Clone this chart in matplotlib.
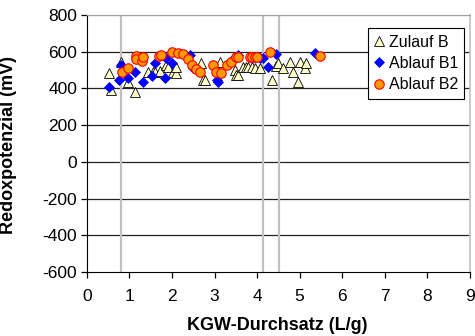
import numpy as np
import matplotlib
matplotlib.use('Agg')
import matplotlib.pyplot as plt

matplotlib.rcParams['font.family'] = ['Liberation Sans', 'DejaVu Sans']
matplotlib.rcParams['font.size'] = 13
matplotlib.rcParams['axes.unicode_minus'] = False

# Zulauf B (Dreiecke)
zulauf_x = [0.51, 0.57, 0.79, 0.96, 1.12, 1.43, 1.55, 1.59, 1.71, 1.87, 1.91, 2.02,
            2.10, 2.10, 2.69, 2.73, 2.77, 3.12, 3.47, 3.51, 3.55, 3.67, 3.75, 3.78,
            3.87, 3.94, 4.06, 4.36, 4.45, 4.49, 4.61, 4.77, 4.85, 4.96, 5.02, 5.12, 5.14]
zulauf_y = [481, 391, 545, 436, 382, 490, 490, 490, 496, 527, 517, 490,
            481, 517, 539, 445, 445, 545, 499, 472, 472, 517, 517, 517,
            517, 509, 509, 445, 521, 538, 509, 545, 490, 436, 545, 509, 536]

# Ablauf B1 (Rauten)
ablauf1_x = [0.51, 0.75, 0.79, 0.96, 1.12, 1.31, 1.52, 1.59, 1.83, 1.87, 1.99, 2.42,
             2.49, 3.05, 3.08, 3.40, 3.55, 3.87, 4.06, 4.14, 4.26, 4.45, 5.36]
ablauf1_y = [409, 445, 527, 456, 489, 434, 467, 539, 454, 563, 536, 581,
             510, 445, 436, 554, 581, 563, 563, 563, 517, 586, 590]

# Ablauf B2 (Kreise)
ablauf2_x = [0.82, 0.96, 1.15, 1.15, 1.29, 1.31, 1.69, 1.75, 2.01, 2.14, 2.25, 2.37,
             2.48, 2.57, 2.65, 2.96, 3.04, 3.16, 3.30, 3.38, 3.51, 3.55, 3.83, 3.87,
             3.94, 4.00, 4.30, 5.47]
ablauf2_y = [488, 510, 575, 559, 550, 570, 575, 581, 599, 593, 586, 558,
             527, 503, 490, 527, 490, 481, 527, 545, 572, 572, 572, 572,
             572, 568, 599, 575]

# graue senkrechte Linien
vlines_x = [0.81, 4.13, 4.52]

fig = plt.figure(figsize=(4.75, 3.36), dpi=100)
ax = fig.add_axes([0.183, 0.190, 0.806, 0.766])

for yv in range(-400, 801, 200):
    ax.axhline(yv, color='#222222' if yv < 800 else '#a0a0a0', lw=0.9, zorder=1)
for xv in vlines_x:
    ax.axvline(xv, color='#c0c0c0', lw=1.6, zorder=1)

ax.plot(zulauf_x, zulauf_y, ls='none', marker='^', ms=7.3, mfc='#ffffcc', mec='black',
        mew=0.6, label='Zulauf B', zorder=3)
ax.plot(ablauf1_x, ablauf1_y, ls='none', marker='D', ms=5.6, mfc='#0000ff', mec='#0000ff',
        mew=0.5, label='Ablauf B1', zorder=4)
ax.plot(ablauf2_x, ablauf2_y, ls='none', marker='o', ms=6.8, mfc='#ff9900', mec='#ff0000',
        mew=0.8, label='Ablauf B2', zorder=5)

ax.set_xlim(0, 9)
ax.set_ylim(-600, 800)
ax.set_xticks(range(0, 10))
ax.set_yticks(range(-600, 801, 200))
ax.tick_params(direction='out', length=4, width=0.9, colors='black', labelsize=12.5)
ax.tick_params(axis='x', pad=8)
ax.tick_params(axis='y', pad=3)

ax.spines['left'].set_color('black')
ax.spines['bottom'].set_color('black')
ax.spines['top'].set_color('#a0a0a0')
ax.spines['right'].set_color('#c0c0c0')
ax.spines['right'].set_linewidth(1.2)

ax.set_xlabel('KGW-Durchsatz (L/g)', fontweight='bold', fontsize=13)
ax.set_ylabel('Redoxpotenzial (mV)', fontweight='bold', fontsize=13)
ax.xaxis.set_label_coords(0.498, -0.175)
ax.yaxis.set_label_coords(-0.183, 0.494)

leg = ax.legend(loc='upper right', bbox_to_anchor=(0.986, 0.948), frameon=True, fancybox=False,
                edgecolor='black', framealpha=1, borderpad=0.4, labelspacing=0.4,
                handletextpad=0.3, handlelength=0.6, fontsize=11.5, borderaxespad=0)
leg.get_frame().set_linewidth(0.8)

fig.savefig('out.png', dpi=100)
